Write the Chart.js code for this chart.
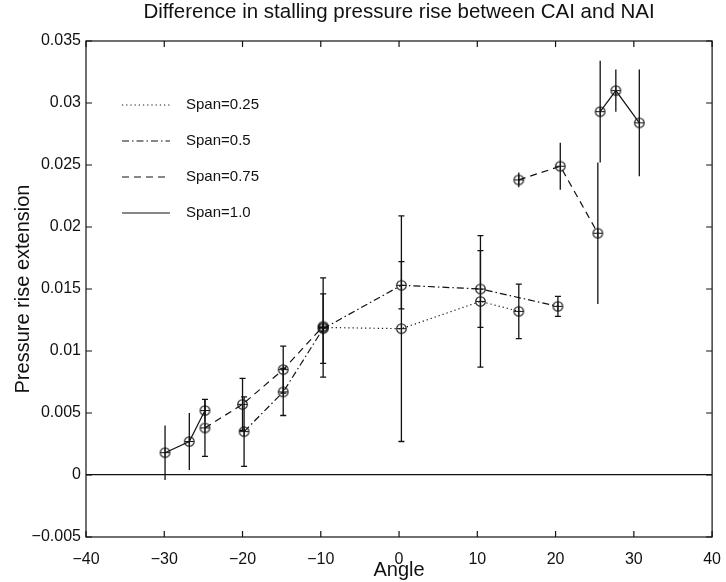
<!DOCTYPE html>
<html>
<head>
<meta charset="utf-8">
<script src="https://cdn.jsdelivr.net/npm/chart.js@4.4.0/dist/chart.umd.min.js"></script>
<style>
  html, body { margin: 0; padding: 0; background: #fff; }
</style>
</head>
<body>
<canvas id="chart" width="726" height="582"></canvas>
<script>
// angle / pressure rise extension / error (half height), null = break in the line
const span25X = [-9.7, 0.3, 10.4, 15.3];
const span25Y = [0.0119, 0.0118, 0.0140, 0.0132];
const span25Err = [0.0040, 0.0091, 0.0053, 0.0022];

const span50X = [-19.8, -14.8, -9.7, 0.3, 10.4, 20.3];
const span50Y = [0.0035, 0.0067, 0.0118, 0.0153, 0.0150, 0.0136];
const span50Err = [0.0028, 0.0019, 0.0028, 0.0019, 0.0031, 0.0008];

const span75X = [-24.8, -20.0, -14.8, -9.7, null, 15.3, 20.6, 25.4];
const span75Y = [0.0038, 0.0057, 0.0085, 0.0120, null, 0.0238, 0.0249, 0.0195];
const span75Err = [0.0023, 0.0021, 0.0019, 0, null, 0.0006, 0.0019, 0.0057];

const span100X = [-29.9, -26.8, -24.8, null, 25.7, 27.7, 30.7];
const span100Y = [0.0018, 0.0027, 0.0052, null, 0.0293, 0.0310, 0.0284];
const span100Err = [0.0022, 0.0023, 0.0009, null, 0.0041, 0.0017, 0.0043];

const seriesLabels = ['Span=0.25', 'Span=0.5', 'Span=0.75', 'Span=1.0'];
const xTicks = [-40, -30, -20, -10, 0, 10, 20, 30, 40];
const yTicks = [-0.005, 0, 0.005, 0.01, 0.015, 0.02, 0.025, 0.03, 0.035];

const FONT = '"Liberation Sans", Arial, Helvetica, sans-serif';

// circle with a plus inside
function makeMarker() {
  const c = document.createElement('canvas');
  c.width = 13; c.height = 13;
  const g = c.getContext('2d');
  g.strokeStyle = '#111';
  g.lineWidth = 1.1;
  g.beginPath();
  g.arc(6.5, 6.5, 4.8, 0, Math.PI * 2);
  g.moveTo(1.7, 6.5); g.lineTo(11.3, 6.5);
  g.moveTo(6.5, 1.7); g.lineTo(6.5, 11.3);
  g.stroke();
  return c;
}
const marker = makeMarker();

function toPoints(xs, ys) {
  return xs.map(function(x, i) { return { x: x, y: ys[i] }; });
}

// caps(i) says whether the i-th error bar gets the little end ticks
function makeSet(label, xs, ys, errs, dash, caps) {
  return {
    label: label,
    data: toPoints(xs, ys),
    errors: errs,
    caps: caps,
    borderColor: '#111',
    borderWidth: 1.2,
    borderDash: dash,
    pointStyle: marker,
    pointRadius: 5,
    fill: false,
    tension: 0,
    spanGaps: false
  };
}

function fmt(v) {
  if (Math.abs(v) < 1e-12) return '0';
  const s = parseFloat(v.toFixed(4)).toString();
  return s.replace('-', '\u2212');
}

const errorBars = {
  id: 'errorBars',
  beforeDatasetsDraw(chart) {
    const ctx = chart.ctx;
    const xs = chart.scales.x, ys = chart.scales.y;
    ctx.save();
    ctx.strokeStyle = '#111';
    ctx.lineWidth = 1.3;
    ctx.setLineDash([]);
    chart.data.datasets.forEach(function(ds) {
      ds.data.forEach(function(p, i) {
        const e = ds.errors[i];
        if (p.y === null || !e) return;
        const px = xs.getPixelForValue(p.x);
        const top = ys.getPixelForValue(p.y + e);
        const bot = ys.getPixelForValue(p.y - e);
        ctx.beginPath();
        ctx.moveTo(px, top); ctx.lineTo(px, bot);
        if (ds.caps(i)) {
          ctx.moveTo(px - 3, top); ctx.lineTo(px + 3, top);
          ctx.moveTo(px - 3, bot); ctx.lineTo(px + 3, bot);
        }
        ctx.stroke();
      });
    });
    ctx.restore();
  }
};

// box round the axes with inward tick marks on all four sides
const frame = {
  id: 'frame',
  afterDraw(chart) {
    const ctx = chart.ctx;
    const a = chart.chartArea;
    const xs = chart.scales.x, ys = chart.scales.y;
    const len = 6;
    ctx.save();
    ctx.strokeStyle = '#111';
    ctx.lineWidth = 1.2;
    ctx.setLineDash([]);
    ctx.strokeRect(a.left, a.top, a.right - a.left, a.bottom - a.top);
    ctx.beginPath();
    xTicks.forEach(function(t) {
      const px = xs.getPixelForValue(t);
      ctx.moveTo(px, a.bottom); ctx.lineTo(px, a.bottom - len);
      ctx.moveTo(px, a.top); ctx.lineTo(px, a.top + len);
    });
    yTicks.forEach(function(t) {
      const py = ys.getPixelForValue(t);
      ctx.moveTo(a.left, py); ctx.lineTo(a.left + len, py);
      ctx.moveTo(a.right, py); ctx.lineTo(a.right - len, py);
    });
    ctx.stroke();
    ctx.restore();
  }
};

// legend inside the axes, top left, no box
const insideLegend = {
  id: 'insideLegend',
  afterDraw(chart) {
    const ctx = chart.ctx;
    const a = chart.chartArea;
    ctx.save();
    ctx.font = '15px ' + FONT;
    ctx.fillStyle = '#111';
    ctx.textBaseline = 'middle';
    chart.data.datasets.forEach(function(ds, i) {
      const y = a.top + 64 + i * 36;
      ctx.strokeStyle = '#111';
      ctx.lineWidth = 1.2;
      ctx.setLineDash(ds.borderDash);
      ctx.beginPath();
      ctx.moveTo(a.left + 36, y); ctx.lineTo(a.left + 84, y);
      ctx.stroke();
      ctx.fillText(ds.label, a.left + 100, y);
    });
    ctx.restore();
  }
};

const always = function() { return true; };

new Chart(document.getElementById('chart'), {
  type: 'line',
  data: {
    datasets: [
      makeSet(seriesLabels[0], span25X, span25Y, span25Err, [1.2, 3], always),
      makeSet(seriesLabels[1], span50X, span50Y, span50Err, [7, 3, 1.5, 3], always),
      makeSet(seriesLabels[2], span75X, span75Y, span75Err, [7, 5], function(i) { return span75X[i] < 0; }),
      makeSet(seriesLabels[3], span100X, span100Y, span100Err, [], function() { return false; })
    ]
  },
  options: {
    responsive: false,
    animation: false,
    events: [],
    layout: { padding: { left: 0, right: 9, top: 0, bottom: 0 } },
    plugins: {
      legend: { display: false },
      tooltip: { enabled: false },
      title: {
        display: true,
        fullSize: false,
        text: 'Difference in stalling pressure rise between CAI and NAI',
        color: '#111',
        font: { family: FONT, size: 20.5, weight: 'normal' },
        padding: { top: 0, bottom: 16.4 }
      }
    },
    scales: {
      x: {
        type: 'linear',
        min: -40,
        max: 40,
        afterBuildTicks: function(s) { s.ticks = xTicks.map(function(v) { return { value: v }; }); },
        afterFit: function(s) { s.height = 45; },
        grid: { display: false },
        border: { display: false },
        ticks: {
          color: '#111',
          padding: 5,
          maxRotation: 0,
          font: { family: FONT, size: 16 },
          callback: fmt
        },
        title: {
          display: true,
          text: 'Angle',
          color: '#111',
          font: { family: FONT, size: 20 },
          padding: { top: 0, bottom: 0 }
        }
      },
      y: {
        type: 'linear',
        min: -0.005,
        max: 0.035,
        afterBuildTicks: function(s) { s.ticks = yTicks.map(function(v) { return { value: v }; }); },
        afterFit: function(s) { s.width = 86; },
        border: { display: false },
        grid: {
          drawTicks: false,
          lineWidth: 1.2,
          color: function(c) { return Math.abs(c.tick.value) < 1e-12 ? '#111' : 'rgba(0,0,0,0)'; }
        },
        ticks: {
          color: '#111',
          padding: 5,
          font: { family: FONT, size: 16 },
          callback: fmt
        },
        title: {
          display: true,
          text: 'Pressure rise extension',
          color: '#111',
          font: { family: FONT, size: 20 },
          padding: { top: 11, bottom: 0 }
        }
      }
    }
  },
  plugins: [errorBars, frame, insideLegend]
});
</script>
</body>
</html>
